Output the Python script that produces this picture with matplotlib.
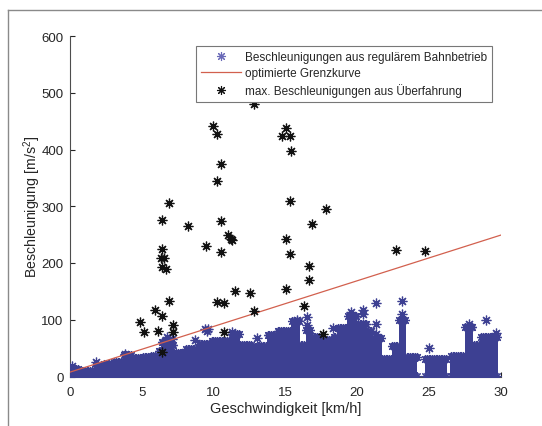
import numpy as np
import matplotlib
matplotlib.use("Agg")
import matplotlib.pyplot as plt
from matplotlib.lines import Line2D

plt.rcParams['font.family'] = ['Liberation Sans', 'DejaVu Sans']
plt.rcParams['mathtext.fontset'] = 'custom'
plt.rcParams['mathtext.rm'] = 'Liberation Sans'
plt.rcParams['mathtext.it'] = 'Liberation Sans'

# ---- data ----
# upper envelope of the dense regular-operation band (step segments start x, top value; NaN = no data)
band_x = [0.0, 0.6, 1.7, 2.3, 3.0, 3.7, 4.3, 5.0, 5.6, 6.1, 6.3, 6.6, 7.0, 7.2, 8.0, 8.9,
          9.8, 10.5, 11.2, 11.8, 12.6, 13.0, 13.7, 14.4, 15.4, 16.0, 16.4, 16.8, 17.5, 18.3,
          18.6, 19.3, 20.0, 20.7, 21.1, 21.7, 22.4, 22.9, 23.4, 24.2, 24.7, 26.3, 26.5, 27.5,
          28.1, 28.6, 29.8]
band_top = [13, 10, 18, 22, 26, 38, 33, 34, 36, 45, 60, 65, 55, 42, 48, 57,
            62, 63, 75, 56, 50, 54, 74, 80, 97, 55, 82, 70, 65, 70,
            86, 106, 92, 80, 68, 31, 54, 100, 34, np.nan, 31, np.nan, 37, 88,
            56, 70, np.nan]

# isolated blue points above the band
blue_x = [0.1, 1.8, 3.8, 6.7, 7.1, 8.7, 9.4, 9.5, 9.6, 11.3, 13.0, 15.8, 16.5, 16.5, 18.3,
          19.6, 20.4, 20.4, 21.3, 21.3, 21.3, 23.15, 23.15, 25.0, 27.8, 29.0, 29.7]
blue_y = [18, 25, 40, 70, 66, 64, 84, 80, 84, 78, 68, 100, 105, 90, 86,
          113, 118, 110, 130, 92, 75, 133, 110, 50, 93, 100, 77]

# optimised limit curve
grenz_x = [0, 30]
grenz_y = [8, 249]

# max. accelerations from crossings
max_x = [12.79, 9.97, 10.21, 15.04, 14.77, 15.33, 15.35, 10.5, 10.23, 6.90, 15.33, 17.84,
         6.40, 10.5, 8.18, 16.85, 10.98, 11.18, 11.27, 9.46, 15.04, 6.40, 6.28, 6.50,
         10.5, 15.33, 22.71, 24.74, 6.40, 6.66, 16.61, 16.61, 15.04, 11.51, 12.53, 6.90,
         10.21, 10.74, 16.32, 5.87, 12.79, 6.40, 4.85, 6.13, 5.14, 7.17, 7.17, 10.74,
         17.62, 6.40]
max_y = [481, 441, 427, 438, 424, 424, 397, 374, 344, 306, 310, 296,
         276, 274, 266, 269, 249, 243, 240, 230, 243, 225, 209, 209,
         219, 215, 223, 222, 193, 189, 195, 170, 154, 151, 147, 133,
         132, 129, 125, 118, 115, 107, 96, 81, 79, 90, 79, 79,
         75, 44]

labels = ['Beschleunigungen aus regulärem Bahnbetrieb',
          'optimierte Grenzkurve',
          'max. Beschleunigungen aus Überfahrung']
xticks = [0, 5, 10, 15, 20, 25, 30]
yticks = [0, 100, 200, 300, 400, 500, 600]

# ---- styling ----
BLUE = '#3d4092'
BLACK = '#111111'
RED = '#d2604e'
TXT = '#262626'
star = (8, 2, 0)

fig = plt.figure(figsize=(5.42, 4.27), dpi=100)
ax = fig.add_axes([70.5/542, 1-377.5/427, 430/542, 340.5/427])

# dense band as step bars + textured star edge
ex, ey = [], []
for i in range(len(band_x) - 1):
    if np.isnan(band_top[i]):
        continue
    w = band_x[i+1] - band_x[i]
    ax.bar(band_x[i], band_top[i], width=w, align='edge', color=BLUE, linewidth=0, zorder=2)
    xs = np.arange(band_x[i] + 0.05, band_x[i+1] - 0.02, 0.12)
    ex.extend(xs); ey.extend([band_top[i]] * len(xs))
ex = np.array(ex); ey = np.array(ey)
ax.plot(ex, ey, linestyle='none', marker=star, ms=6.5, mec=BLUE, mew=0.9, zorder=3)
ax.plot(ex, np.full_like(ex, 1.5), linestyle='none', marker=star, ms=6, mec=BLUE, mew=0.8, zorder=3)
ax.plot(blue_x, blue_y, linestyle='none', marker=star, ms=7, mec=BLUE, mew=0.9, zorder=3)

ax.plot(grenz_x, grenz_y, color=RED, lw=0.9, zorder=4)
ax.plot(max_x, max_y, linestyle='none', marker=star, ms=7, mec=BLACK, mew=0.9, zorder=5)

ax.set_xlim(0, 30)
ax.set_ylim(0, 600)
ax.set_xticks(xticks)
ax.set_yticks(yticks)
ax.tick_params(direction='in', length=3.5, width=0.8, colors=TXT, labelsize=9.5,
               top=False, right=False)
ax.tick_params(axis='x', pad=7)
ax.tick_params(axis='y', pad=5)
for s in ['top', 'right']:
    ax.spines[s].set_visible(False)
for s in ['left', 'bottom']:
    ax.spines[s].set_color('#4d4d4d')
    ax.spines[s].set_linewidth(0.8)
ax.set_xlabel('Geschwindigkeit [km/h]', fontsize=10.5, color=TXT, labelpad=2)
ax.set_ylabel('Beschleunigung [m/s$^2$]', fontsize=10.2, color=TXT, labelpad=-1.5)

handles = [Line2D([], [], linestyle='none', marker=star, ms=6.5, mec='#6a6ab8', mew=0.8),
           Line2D([], [], color=RED, lw=0.9),
           Line2D([], [], linestyle='none', marker=star, ms=6.5, mec=BLACK, mew=0.8)]
leg = ax.legend(handles, labels, loc='upper left', bbox_to_anchor=((195.7-70.5)/430, (377.5-46.5)/340.5),
                borderaxespad=0, fontsize=8.45, frameon=True, fancybox=False, framealpha=1,
                edgecolor='#777777', borderpad=0.45, labelspacing=0.35, handlelength=3.4,
                handletextpad=0.35)
leg.get_frame().set_linewidth(0.8)
for t in leg.get_texts():
    t.set_color(TXT)

# outer frame of the image
fig.add_artist(Line2D([8/542, 1], [1-11/427, 1-11/427], transform=fig.transFigure, color='#8a8a8a', lw=1))
fig.add_artist(Line2D([8/542, 8/542], [0, 1-11/427], transform=fig.transFigure, color='#8a8a8a', lw=1))

fig.savefig('out.png', dpi=100)
